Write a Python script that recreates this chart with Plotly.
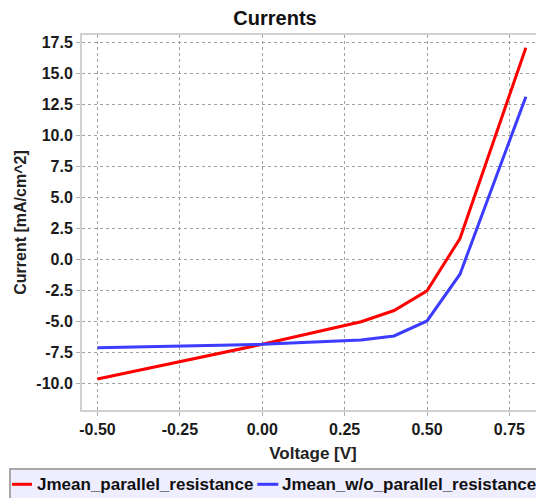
import plotly.graph_objects as go

voltage = [-0.5, 0.0, 0.3, 0.4, 0.5, 0.6, 0.8]
j_parallel = [-9.65, -6.85, -5.03, -4.12, -2.53, 1.69, 17.1]
j_without = [-7.13, -6.85, -6.5, -6.17, -4.96, -1.19, 13.14]
series_names = ["Jmean_parallel_resistance", "Jmean_w/o_parallel_resistance"]
series_colors = ["#ff0000", "#3c3cff"]
y_ticks = [-10.0, -7.5, -5.0, -2.5, 0.0, 2.5, 5.0, 7.5, 10.0, 12.5, 15.0, 17.5]
x_ticks = [-0.5, -0.25, 0.0, 0.25, 0.5, 0.75]

W, H = 536, 490  # page body has an 8px margin
ML, MT, MB = 74, 27, 88
PW, PH = W - ML, H - MT - MB


def px_x(fx):
    return (fx - ML) / PW


def px_y(fy):
    return (MT + PH - fy) / PH


fig = go.Figure()
for name, ys, col in zip(series_names, [j_parallel, j_without], series_colors):
    fig.add_trace(go.Scatter(x=voltage, y=ys, mode="lines", name=name,
                             showlegend=False, line=dict(color=col, width=3)))

font_family = "Liberation Sans, Arial, sans-serif"

# custom legend (box, line samples, labels)
shapes = [dict(type="rect", xref="paper", yref="paper",
               x0=px_x(2), x1=px_x(529), y0=px_y(461), y1=px_y(496),
               fillcolor="#eeeeff", line=dict(color="#a8a8a8", width=2), layer="above")]
annotations = []
leg_items = [(4, 24, 27), (249.3, 270.3, 272)]
for (lx0, lx1, tx), name, col in zip(leg_items, series_names, series_colors):
    shapes.append(dict(type="line", xref="paper", yref="paper",
                       x0=px_x(lx0), x1=px_x(lx1), y0=px_y(476.3), y1=px_y(476.3),
                       line=dict(color=col, width=3), layer="above"))
    annotations.append(dict(text="<b>%s</b>" % name, xref="paper", yref="paper",
                            x=px_x(tx), y=px_y(476.8), xanchor="left", yanchor="middle",
                            showarrow=False, font=dict(size=17, color="#111111")))

fig.update_layout(
    width=W, height=H,
    margin=dict(l=ML, r=0, t=MT, b=MB, autoexpand=False),
    paper_bgcolor="white", plot_bgcolor="white",
    font=dict(family=font_family, size=16, color="#222222"),
    title=dict(text="<b>Currents</b>", x=267 / W, xanchor="center",
               y=1 - 10 / H, yanchor="middle", yref="container",
               font=dict(size=20, color="#111111")),
    showlegend=False,
    shapes=shapes,
    annotations=annotations,
)
fig.update_xaxes(
    range=[-0.547, 0.855], tickvals=x_ticks, ticktext=["<b>%.2f</b>" % v for v in x_ticks],
    showgrid=True, gridcolor="#a0a0a0", griddash="dot", gridwidth=1,
    zeroline=False, showline=True, linecolor="#d0d0d0", linewidth=2, mirror=True,
    ticks="outside", ticklen=4, tickcolor="#b0b0b0", automargin=False,
    tickfont=dict(size=16, color="#1a1a1a"),
    title=dict(text="<b>Voltage [V]</b>", font=dict(size=17), standoff=10),
)
fig.update_yaxes(
    range=[-12.15, 18.12], tickvals=y_ticks, ticktext=["<b>%.1f</b>" % v for v in y_ticks],
    showgrid=True, gridcolor="#a0a0a0", griddash="dot", gridwidth=1,
    zeroline=False, showline=True, linecolor="#d0d0d0", linewidth=2, mirror=True,
    ticks="outside", ticklen=4, tickcolor="#b0b0b0", automargin=False,
    tickfont=dict(size=16, color="#1a1a1a"),
    title=dict(text="<b>Current [mA/cm^2]</b>", font=dict(size=16), standoff=6),
)

fig.write_html("out.html")
